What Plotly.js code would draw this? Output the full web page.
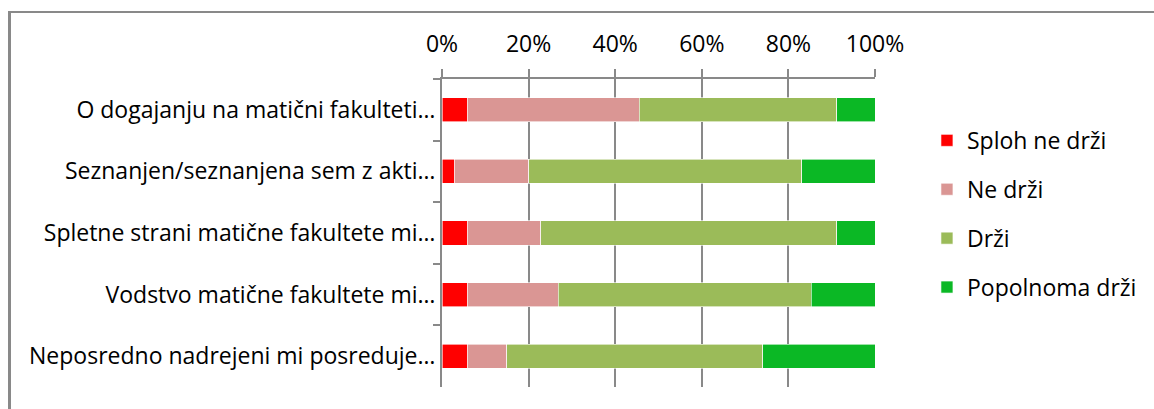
<!DOCTYPE html>
<html>
<head>
<meta charset="utf-8">
<script src="https://cdn.plot.ly/plotly-3.0.1.min.js"></script>
<style>
  html, body { margin: 0; padding: 0; background: #fff; }
  #wrap { position: relative; width: 1154px; height: 409px; overflow: hidden; }
  #chart { position: absolute; left: 0; top: 0; width: 1154px; height: 409px; }
  #frame { position: absolute; left: 8px; top: 11px; width: 1200px; height: 500px;
           border-left: 3px solid #898989; border-top: 2px solid #898989; pointer-events: none; }
</style>
</head>
<body>
<div id="wrap">
  <div id="chart"></div>
  <div id="frame"></div>
</div>
<script>
const categories = [
  "O dogajanju na matični fakulteti…",
  "Seznanjen/seznanjena sem z akti…",
  "Spletne strani matične fakultete mi…",
  "Vodstvo matične fakultete mi…",
  "Neposredno nadrejeni mi posreduje…"
];
const seriesNames = ["Sploh ne drži", "Ne drži", "Drži", "Popolnoma drži"];
const splohNeDrzi   = [6.0, 3.0, 6.0, 6.0, 6.0];
const neDrzi        = [39.6, 17.0, 16.8, 20.8, 9.0];
const drzi          = [45.6, 63.1, 68.4, 58.5, 59.1];
const popolnomaDrzi = [8.8, 16.9, 8.8, 14.7, 25.9];
const tickVals = [0, 20, 40, 60, 80, 100];
const tickText = ["0%", "20%", "40%", "60%", "80%", "100%"];

const colors = ["#FF0000", "#DA9694", "#9BBB59", "#0BB825"];
const values = [splohNeDrzi, neDrzi, drzi, popolnomaDrzi];
const FONT = "Open Sans, sans-serif";
const FS = 23;

const traces = seriesNames.map((name, i) => ({
  type: "bar",
  orientation: "h",
  name: name,
  legendgroup: "g" + i,
  x: values[i],
  y: categories,
  marker: { color: colors[i], line: { color: "#ffffff", width: 0.6 } },
  hoverinfo: "x+name"
}));

const layout = {
  width: 1154,
  height: 409,
  margin: { l: 442, r: 279, t: 79, b: 22, pad: 0 },
  paper_bgcolor: "rgba(0,0,0,0)",
  plot_bgcolor: "#ffffff",
  barmode: "stack",
  bargap: 0.61,
  showlegend: true,
  font: { family: FONT, size: FS, color: "#000000" },
  xaxis: {
    side: "top",
    range: [0, 100],
    tickvals: tickVals,
    ticktext: tickText,
    showgrid: true,
    gridcolor: "#898989",
    gridwidth: 2,
    zeroline: false,
    showline: true,
    linecolor: "#898989",
    linewidth: 2,
    ticks: "outside",
    ticklen: 8,
    tickcolor: "#898989",
    tickwidth: 2,
    ticklabelstandoff: 8,
    tickfont: { family: FONT, size: FS, color: "#000" },
    fixedrange: true
  },
  yaxis: {
    type: "category",
    autorange: "reversed",
    showline: true,
    linecolor: "#898989",
    linewidth: 2,
    ticks: "outside",
    tickson: "boundaries",
    ticklen: 7,
    tickcolor: "#898989",
    tickwidth: 2,
    showgrid: false,
    tickfont: { family: FONT, size: FS, color: "#000" },
    fixedrange: true
  },
  legend: {
    x: 1.12, xref: "paper", xanchor: "left",
    y: 0.562, yanchor: "middle",
    traceorder: "grouped",
    tracegroupgap: 16,
    font: { family: FONT, size: FS, color: "#000" },
    bgcolor: "rgba(0,0,0,0)",
    itemwidth: 30
  }
};

Plotly.newPlot("chart", traces, layout, { displayModeBar: false, staticPlot: true });
</script>
</body>
</html>
